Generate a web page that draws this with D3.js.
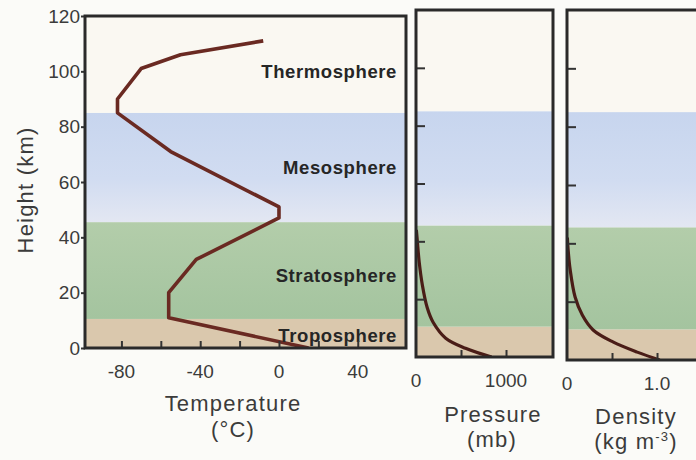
<!DOCTYPE html>
<html>
<head>
<meta charset="utf-8">
<script src="https://cdn.jsdelivr.net/npm/d3@7"></script>
<style>
  html, body { margin: 0; padding: 0; background: #fbfbf8; }
  svg { display: block; font-family: "Liberation Sans", Arial, Helvetica, sans-serif; }
</style>
</head>
<body>
<svg id="chart" width="696" height="460"></svg>
<script>
// Atmospheric layers (km)
const layerNames = ["Troposphere", "Stratosphere", "Mesosphere", "Thermosphere"];
const layerBase  = [0, 10.5, 45.5, 85];
const layerTop   = [10.5, 45.5, 85, 120];

// Temperature profile
const tempHeight = [0, 10.9, 20, 32, 47, 51, 71, 85, 90, 101, 106, 111];
const tempValue  = [15, -56, -56, -42, 0, 0, -55, -82, -82, -70, -50, -8];

// Pressure profile (mb)
const pressHeight = [0, 3, 6.5, 12, 17, 25, 33, 40, 44];
const pressValue  = [840, 550, 330, 190, 125, 70, 35, 15, 4];

// Density profile (kg m-3)
const densHeight = [0, 2.7, 6.2, 10.3, 15.4, 21.6, 31, 38, 42];
const densValue  = [1.03, 0.78, 0.51, 0.29, 0.17, 0.09, 0.035, 0.012, 0.004];

// Tick values and labels
const heightTicks     = [0, 20, 40, 60, 80, 100, 120];
const tempTickMarks   = [-80, -60, -40, -20, 0, 20, 40];
const tempTickLabels  = [-80, -40, 0, 40];
const pressTickMarks  = [500, 1000];
const pressTickLabels = [0, 1000];
const densTickMarks   = [0.5, 1.0];
const densTickLabels  = [0, 1.0];

// ---- layout ----
const layerFill = {
  Troposphere: "#dac8ad",
  Stratosphere: "url(#gStrat)",
  Mesosphere: "url(#gMeso)",
  Thermosphere: "#faf8f2"
};
const layerLabelKm = { Thermosphere: 100, Mesosphere: 65.3, Stratosphere: 26.4, Troposphere: 4.7 };

const panels = [
  { x0: 85,  x1: 406, yb: 348, yt: 16, domain: [-98.5, 64.5] },
  { x0: 416, x1: 553, yb: 357, yt: 10, domain: [0, 1522] },
  { x0: 567, x1: 705, yb: 360, yt: 10, domain: [0, 1.533] }
];

const svg = d3.select("#chart");
const defs = svg.append("defs");

const gMeso = defs.append("linearGradient").attr("id", "gMeso")
  .attr("x1", 0).attr("y1", 0).attr("x2", 0).attr("y2", 1);
gMeso.append("stop").attr("offset", "0%").attr("stop-color", "#c7d5ee");
gMeso.append("stop").attr("offset", "60%").attr("stop-color", "#d1dcf1");
gMeso.append("stop").attr("offset", "100%").attr("stop-color", "#e3e7f2");

const gStrat = defs.append("linearGradient").attr("id", "gStrat")
  .attr("x1", 0).attr("y1", 0).attr("x2", 0).attr("y2", 1);
gStrat.append("stop").attr("offset", "0%").attr("stop-color", "#b3cdaa");
gStrat.append("stop").attr("offset", "100%").attr("stop-color", "#a4c49f");

const textColor = "#3b3b3b";

panels.forEach((p, i) => {
  p.x = d3.scaleLinear().domain(p.domain).range([p.x0, p.x1]);
  p.y = d3.scaleLinear().domain([0, 120]).range([p.yb, p.yt]);
  defs.append("clipPath").attr("id", "clip" + i)
    .append("rect").attr("x", p.x0).attr("y", p.yt)
    .attr("width", p.x1 - p.x0).attr("height", p.yb - p.yt);
});

// Layer bands in every panel
panels.forEach((p, i) => {
  const g = svg.append("g").attr("clip-path", `url(#clip${i})`);
  g.selectAll("rect.band")
    .data(layerNames)
    .join("rect")
    .attr("class", "band")
    .attr("x", p.x0)
    .attr("width", p.x1 - p.x0)
    .attr("y", (d, k) => p.y(layerTop[k]))
    .attr("height", (d, k) => p.y(layerBase[k]) - p.y(layerTop[k]))
    .attr("fill", d => layerFill[d]);
});

// Profiles
const [pT, pP, pD] = panels;

const tempLine = d3.line()
  .x((d, k) => pT.x(tempValue[k]))
  .y(d => pT.y(d));
svg.append("path")
  .attr("clip-path", "url(#clip0)")
  .attr("d", tempLine(tempHeight))
  .attr("fill", "none")
  .attr("stroke", "#6a2a22")
  .attr("stroke-width", 3.6)
  .attr("stroke-linejoin", "round");

const pressLine = d3.line()
  .curve(d3.curveCatmullRom.alpha(0.5))
  .x((d, k) => pP.x(pressValue[k]))
  .y(d => pP.y(d));
svg.append("path")
  .attr("clip-path", "url(#clip1)")
  .attr("d", pressLine(pressHeight))
  .attr("fill", "none")
  .attr("stroke", "#4a1d17")
  .attr("stroke-width", 3.2);

const densLine = d3.line()
  .curve(d3.curveCatmullRom.alpha(0.5))
  .x((d, k) => pD.x(densValue[k]))
  .y(d => pD.y(d));
svg.append("path")
  .attr("clip-path", "url(#clip2)")
  .attr("d", densLine(densHeight))
  .attr("fill", "none")
  .attr("stroke", "#4a1d17")
  .attr("stroke-width", 3.2);

// Layer names
svg.append("g").selectAll("text")
  .data(layerNames)
  .join("text")
  .attr("x", 397)
  .attr("y", d => pT.y(layerLabelKm[d]))
  .attr("dy", "0.36em")
  .attr("text-anchor", "end")
  .attr("font-size", 18.5)
  .attr("font-weight", "bold")
  .attr("letter-spacing", 0.6)
  .attr("fill", "#262626")
  .text(d => d);

// Height axis (panel 1, outward ticks with labels)
const hAxis = svg.append("g")
  .attr("transform", `translate(${pT.x0},0)`)
  .call(d3.axisLeft(pT.y).tickValues(heightTicks).tickSize(4).tickPadding(1).tickFormat(d3.format("d")));
hAxis.select(".domain").remove();
hAxis.selectAll("line").attr("stroke", "#333").attr("stroke-width", 2);
hAxis.selectAll("text").attr("font-size", 19).attr("fill", textColor)
  .attr("font-family", "'Liberation Sans', Arial, sans-serif");

// Inward height ticks in panels 2 and 3
[pP, pD].forEach(p => {
  const a = svg.append("g")
    .attr("transform", `translate(${p.x0},0)`)
    .call(d3.axisRight(p.y).tickValues([20, 40, 60, 80, 100]).tickSize(9).tickFormat(""));
  a.select(".domain").remove();
  a.selectAll("line").attr("stroke", "#333").attr("stroke-width", 2);
});

// Bottom tick marks (inward) and labels
function bottomAxis(p, marks, labels, fmt) {
  const a = svg.append("g")
    .attr("transform", `translate(0,${p.yb})`)
    .call(d3.axisBottom(p.x).tickValues(marks).tickSize(-7).tickFormat(""));
  a.select(".domain").remove();
  a.selectAll("line").attr("stroke", "#333").attr("stroke-width", 2);

  svg.append("g").selectAll("text")
    .data(labels)
    .join("text")
    .attr("x", d => p.x(d))
    .attr("y", p.yb + 23)
    .attr("dy", "0.36em")
    .attr("text-anchor", "middle")
    .attr("font-size", 19)
    .attr("fill", textColor)
    .text(fmt);
}
bottomAxis(pT, tempTickMarks, tempTickLabels, d => String(d));
bottomAxis(pP, pressTickMarks, pressTickLabels, d => String(d));
bottomAxis(pD, densTickMarks, densTickLabels, d => d === 0 ? "0" : d.toFixed(1));

// Panel frames
panels.forEach(p => {
  svg.append("rect")
    .attr("x", p.x0).attr("y", p.yt)
    .attr("width", p.x1 - p.x0).attr("height", p.yb - p.yt)
    .attr("fill", "none")
    .attr("stroke", "#2a2a2a")
    .attr("stroke-width", 3);
});

// Axis titles
const titleStyle = sel => sel
  .attr("text-anchor", "middle")
  .attr("font-size", 22)
  .attr("letter-spacing", 1.2)
  .attr("fill", textColor);

svg.append("text").call(titleStyle)
  .attr("transform", "translate(33,190) rotate(-90)")
  .text("Height (km)");

svg.append("text").call(titleStyle).attr("x", 233).attr("y", 411).text("Temperature");
svg.append("text").call(titleStyle).attr("x", 233).attr("y", 437).text("(°C)");

svg.append("text").call(titleStyle).attr("x", 493).attr("y", 422).text("Pressure");
svg.append("text").call(titleStyle).attr("x", 492).attr("y", 447).text("(mb)");

svg.append("text").call(titleStyle).attr("x", 636).attr("y", 424).text("Density");
const unit = svg.append("text").call(titleStyle).attr("x", 636).attr("y", 449);
unit.append("tspan").text("(kg m");
unit.append("tspan").attr("font-size", 13).attr("dy", -8).text("-3");
unit.append("tspan").attr("dy", 8).text(")");
</script>
</body>
</html>
